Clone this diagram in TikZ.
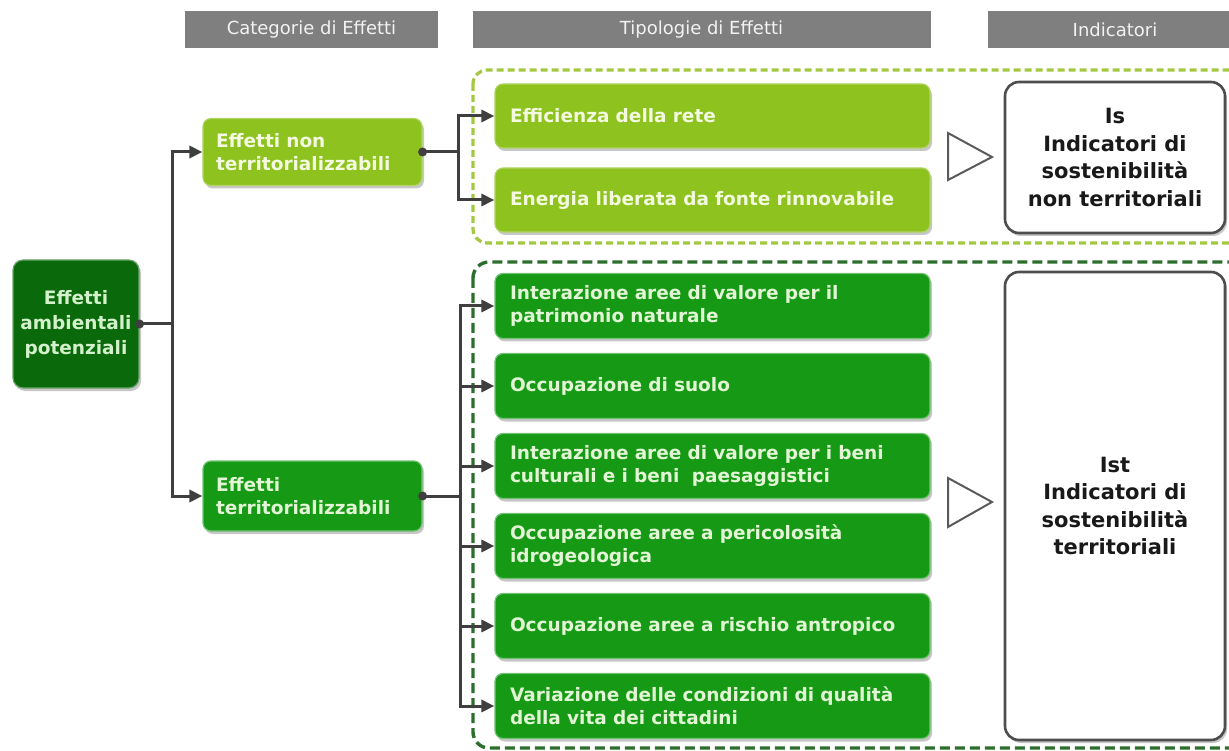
\documentclass[tikz,border=0pt]{standalone}
\usepackage{fontspec}
\setmainfont{DejaVu Sans}
\usetikzlibrary{shadows,arrows.meta}
\definecolor{lightgreen}{HTML}{8DC21F}
\definecolor{typegreen}{HTML}{169A16}
\definecolor{rootgreen}{HTML}{0A690A}
\definecolor{lighttext}{HTML}{F3FADF}
\definecolor{darktext}{HTML}{E2F5D5}
\definecolor{roottext}{HTML}{D3F2CB}
\definecolor{hdrgray}{HTML}{7F7F7F}
\definecolor{hdrtext}{HTML}{F2F2F2}
\definecolor{conncol}{HTML}{3F3F3F}
\definecolor{lightdash}{HTML}{A3C940}
\definecolor{darkdash}{HTML}{2C6E2C}
\definecolor{indborder}{HTML}{4D4D4D}
\definecolor{tricol}{HTML}{5A5A5A}
\begin{document}
\begin{tikzpicture}[x=1pt,y=-1pt,
  hdr/.style={fill=hdrgray, text=hdrtext, font=\fontsize{18}{22}\selectfont, minimum height=37pt, inner sep=0pt},
  shad/.style={drop shadow={shadow xshift=2pt, shadow yshift=-3pt, opacity=0.4, fill=black!55}},
  rootbox/.style={shad, fill=rootgreen, draw=rootgreen!60!white, line width=1.2pt, text=roottext, rounded corners=10pt,
    minimum width=126pt, minimum height=128pt, align=center, inner sep=2pt,
    font=\bfseries\fontsize{18.5}{25}\selectfont},
  catbox/.style={shad, rounded corners=8pt, text width=193pt, inner xsep=13pt, inner ysep=2pt, align=left,
    font=\bfseries\fontsize{18.5}{22.5}\selectfont},
  typebox/.style={shad, rounded corners=8pt, text width=405pt, inner xsep=15pt, inner ysep=2pt, align=left,
    font=\bfseries\fontsize{18.5}{23}\selectfont},
  lightfill/.style={fill=lightgreen, draw=lightgreen!70!white, line width=1.2pt, text=lighttext},
  darkfill/.style={fill=typegreen, draw=typegreen!60!white, line width=1.2pt, text=darktext},
  indbox/.style={shad, draw=indborder, line width=2.6pt, fill=white, rounded corners=14pt, minimum width=220pt,
    align=center, text=black!90, font=\bfseries\fontsize{21}{27.5}\selectfont},
  tri/.style={draw=tricol, fill=white, line width=2pt, line join=miter},
  conn/.style={draw=conncol, line width=3pt},
  arr/.style={conn, -{Triangle[length=13pt,width=12pt]}},
  dot/.style={fill=conncol},
  ldash/.style={draw=lightdash, line width=3.2pt, dash pattern=on 7pt off 4pt, rounded corners=14pt},
  ddash/.style={draw=darkdash, line width=3.4pt, dash pattern=on 10pt off 5pt, rounded corners=16pt}
]
\clip (0,0) rectangle (1229,751);
\fill[white] (0,0) rectangle (1229,751);

% headers
\node[hdr, minimum width=253pt] (h1) at (311.5,29.5) {Categorie di Effetti};
\node[hdr, minimum width=458pt] (h2) at (701.5,29.5) {Tipologie di Effetti};
\node[hdr, minimum width=254pt] (h3) at (1115,29.5) {Indicatori};

% dashed groups
\draw[ldash] (473,70) rectangle (1250,243);
\draw[ddash] (473,262) rectangle (1250,748);

% root
\node[rootbox] (root) at (76,324) {Effetti\\ambientali\\potenziali};

% categories
\node[catbox, lightfill, minimum height=67pt] (cat1) at (312.5,152) {Effetti non\\territorializzabili};
\node[catbox, darkfill, minimum height=70pt] (cat2) at (312.5,496) {Effetti\\territorializzabili};

% type boxes (non territorial)
\node[typebox, lightfill, minimum height=64pt] (e1) at (712.5,116) {Efficienza della rete};
\node[typebox, lightfill, minimum height=64pt] (e2) at (712.5,200) {Energia liberata da fonte rinnovabile};

% type boxes (territorial)
\node[typebox, darkfill, minimum height=65pt] (d1) at (712.5,306) {Interazione aree di valore per il\\patrimonio naturale};
\node[typebox, darkfill, minimum height=65pt] (d2) at (712.5,386) {Occupazione di suolo};
\node[typebox, darkfill, minimum height=65pt] (d3) at (712.5,466) {Interazione aree di valore per i beni\\culturali e i beni\ \ paesaggistici};
\node[typebox, darkfill, minimum height=65pt] (d4) at (712.5,546) {Occupazione aree a pericolosità\\idrogeologica};
\node[typebox, darkfill, minimum height=65pt] (d5) at (712.5,626) {Occupazione aree a rischio antropico};
\node[typebox, darkfill, minimum height=65pt] (d6) at (712.5,706) {Variazione delle condizioni di qualità\\della vita dei cittadini};

% triangles
\draw[tri] (948,133) -- (992,157) -- (948,180) -- cycle;
\draw[tri] (948,478) -- (992,502) -- (948,527) -- cycle;

% indicators
\node[indbox, minimum height=151pt] (is) at (1115,157.5) {Is\\Indicatori di\\sostenibilità\\non territoriali};
\node[indbox, minimum height=468pt] (ist) at (1115,506) {Ist\\Indicatori di\\sostenibilità\\territoriali};

% connectors
\coordinate (j0) at (172,324);
\draw[conn] (root.east) -- (j0);
\draw[arr] (j0) |- (cat1.west);
\draw[arr] (j0) |- (cat2.west);
\fill[dot] (root.east) circle (4.5pt);

\coordinate (j1) at (458,152);
\draw[conn] (cat1.east) -- (j1);
\draw[arr] (j1) |- (e1.west);
\draw[arr] (j1) |- (e2.west);
\fill[dot] (cat1.east) circle (4.5pt);

\coordinate (j2) at (460,496);
\draw[conn] (cat2.east) -- (j2);
\foreach \t in {d1,d2,d3,d4,d5,d6}{\draw[arr] (j2) |- (\t.west);}
\fill[dot] (cat2.east) circle (4.5pt);
\end{tikzpicture}
\end{document}
